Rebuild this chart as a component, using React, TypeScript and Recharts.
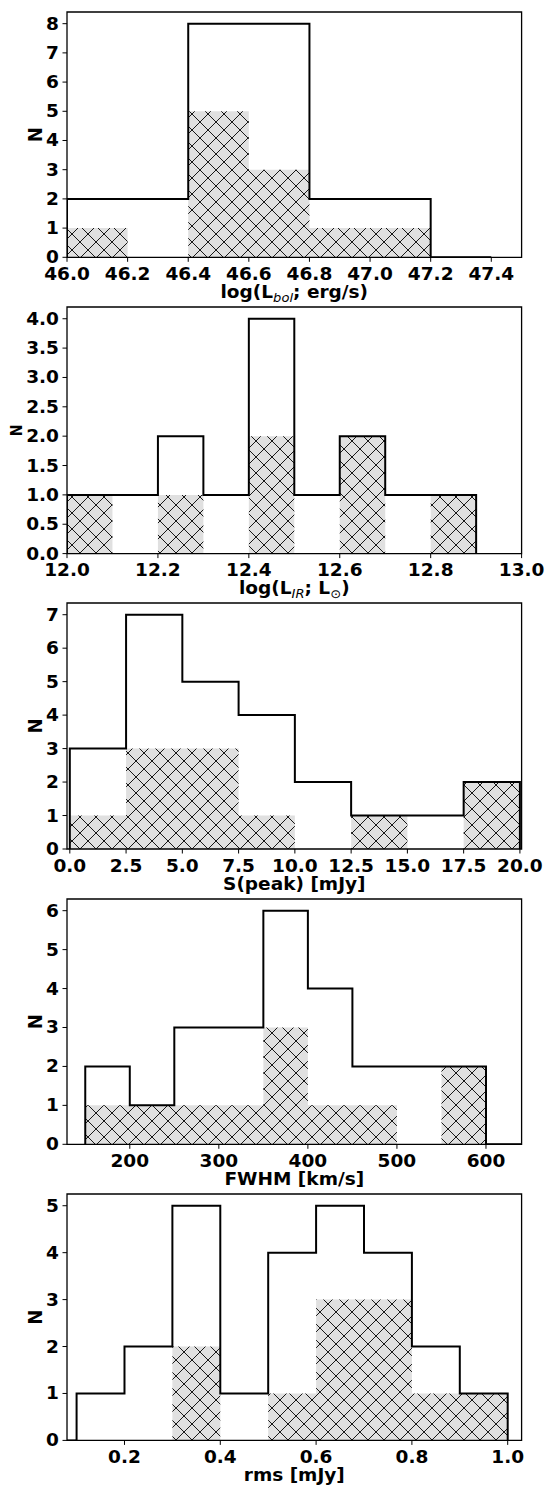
import React from "react";
import { ComposedChart, Area, Line, XAxis, YAxis, ReferenceArea, Label } from "recharts";

// Histograms: outline = full sample, hatched = sub-sample. Counts per bin, edges are bin boundaries.
const lbolEdges = [46.0, 46.2, 46.4, 46.6, 46.8, 47.0, 47.2, 47.4];
const lbolAll = [2, 2, 8, 8, 2, 2, 0];
const lbolSub = [1, 0, 5, 3, 1, 1, 0];
const lbolXTicks = [46.0, 46.2, 46.4, 46.6, 46.8, 47.0, 47.2, 47.4];
const lbolYTicks = [0, 1, 2, 3, 4, 5, 6, 7, 8];

const lirEdges = [12.0, 12.1, 12.2, 12.3, 12.4, 12.5, 12.6, 12.7, 12.8, 12.9];
const lirAll = [1, 1, 2, 1, 4, 1, 2, 1, 1];
const lirSub = [1, 0, 1, 0, 2, 0, 2, 0, 1];
const lirXTicks = [12.0, 12.2, 12.4, 12.6, 12.8, 13.0];
const lirYTicks = [0, 0.5, 1, 1.5, 2, 2.5, 3, 3.5, 4];

const speakEdges = [0, 2.5, 5, 7.5, 10, 12.5, 15, 17.5, 20];
const speakAll = [3, 7, 5, 4, 2, 1, 1, 2];
const speakSub = [1, 3, 3, 1, 0, 1, 0, 2];
const speakXTicks = [0, 2.5, 5, 7.5, 10, 12.5, 15, 17.5, 20];
const speakYTicks = [0, 1, 2, 3, 4, 5, 6, 7];

const fwhmEdges = [150, 200, 250, 300, 350, 400, 450, 500, 550, 600, 650];
const fwhmAll = [2, 1, 3, 3, 6, 4, 2, 2, 2, 0];
const fwhmSub = [1, 1, 1, 1, 3, 1, 1, 0, 2, 0];
const fwhmXTicks = [200, 300, 400, 500, 600];
const fwhmYTicks = [0, 1, 2, 3, 4, 5, 6];

const rmsEdges = [0.0, 0.1, 0.2, 0.3, 0.4, 0.5, 0.6, 0.7, 0.8, 0.9, 1.0];
const rmsAll = [0, 1, 2, 5, 1, 4, 5, 4, 2, 1];
const rmsSub = [0, 0, 0, 2, 0, 1, 3, 3, 1, 1];
const rmsXTicks = [0.2, 0.4, 0.6, 0.8, 1.0];
const rmsYTicks = [0, 1, 2, 3, 4, 5];

const FONT = "'DejaVu Sans', sans-serif";
const SX = 1.09; // horizontal text stretch
const PLOT_LEFT = 67;
const PLOT_RIGHT = 521.6;
const WIDTH = 547;
const AXIS_H = 50;

type Pt = { x: number; n: number };

// outline: rise at first edge, fall at last edge
const stepPoints = (edges: number[], counts: number[]): Pt[] => [
  { x: edges[0], n: 0 },
  ...counts.map((c, i) => ({ x: edges[i], n: c })),
  { x: edges[edges.length - 1], n: 0 },
];

// filled bars: last value repeated at the closing edge
const areaPoints = (edges: number[], counts: number[]): Pt[] => [
  ...counts.map((c, i) => ({ x: edges[i], n: c })),
  { x: edges[edges.length - 1], n: counts[counts.length - 1] },
];

const f1 = (v: number) => v.toFixed(1);
const f0 = (v: number) => v.toFixed(0);

const sub = (s: string) => (
  <tspan dy={4} fontSize={12} fontStyle="italic" fontWeight="normal">
    {s}
  </tspan>
);

const panels = [
  {
    id: "lbol",
    top: 11.7,
    bottom: 257,
    edges: lbolEdges,
    all: lbolAll,
    sub: lbolSub,
    xDomain: [46.0, 47.5],
    xTicks: lbolXTicks,
    xFmt: f1,
    yMax: 8.4,
    yTicks: lbolYTicks,
    yFmt: f0,
    nSize: 18,
    nX: 41.8,
    label: (
      <>
        log(L{sub("bol")}
        <tspan dy={-4}>; erg/s)</tspan>
      </>
    ),
  },
  {
    id: "lir",
    top: 306.7,
    bottom: 553.3,
    edges: lirEdges,
    all: lirAll,
    sub: lirSub,
    xDomain: [12.0, 13.0],
    xTicks: lirXTicks,
    xFmt: f1,
    yMax: 4.2,
    yTicks: lirYTicks,
    yFmt: f1,
    nSize: 14,
    nX: 21.6,
    label: (
      <>
        log(L{sub("IR")}
        <tspan dy={-4}>; L</tspan>
        <tspan dy={4} fontSize={12} fontWeight="normal">⊙</tspan>
        <tspan dy={-4}>)</tspan>
      </>
    ),
  },
  {
    id: "speak",
    top: 603.3,
    bottom: 849.3,
    edges: speakEdges,
    all: speakAll,
    sub: speakSub,
    xDomain: [-0.125, 20.075],
    xTicks: speakXTicks,
    xFmt: f1,
    yMax: 7.35,
    yTicks: speakYTicks,
    yFmt: f0,
    nSize: 18,
    nX: 41.8,
    label: <>S(peak) [mJy]</>,
  },
  {
    id: "fwhm",
    top: 899,
    bottom: 1144.3,
    edges: fwhmEdges,
    all: fwhmAll,
    sub: fwhmSub,
    xDomain: [129.5, 640],
    xTicks: fwhmXTicks,
    xFmt: f0,
    yMax: 6.3,
    yTicks: fwhmYTicks,
    yFmt: f0,
    nSize: 18,
    nX: 41.8,
    label: <>FWHM [km/s]</>,
  },
  {
    id: "rms",
    top: 1194.3,
    bottom: 1440.7,
    edges: rmsEdges,
    all: rmsAll,
    sub: rmsSub,
    xDomain: [0.08, 1.029],
    xTicks: rmsXTicks,
    xFmt: f1,
    yMax: 5.25,
    yTicks: rmsYTicks,
    yFmt: f0,
    nSize: 18,
    nX: 41.8,
    label: <>rms [mJy]</>,
  },
];

const textProps = { fontFamily: FONT, fontWeight: "bold" as const, fill: "#000" };

function Panel({ p }: { p: (typeof panels)[number] }) {
  const plotH = p.bottom - p.top;
  const height = plotH + 10 + AXIS_H;
  const hatchId = `hatch-${p.id}`;
  return (
    <div style={{ position: "absolute", left: 0, top: p.top - 10, width: WIDTH, height }}>
      <ComposedChart
        width={WIDTH}
        height={height}
        margin={{ top: 10, right: WIDTH - PLOT_RIGHT, bottom: 0, left: 0 }}
      >
        <defs>
          <pattern id={hatchId} patternUnits="userSpaceOnUse" width={16} height={16}>
            <rect width={16} height={16} fill="#e0e0e0" />
            <path d="M-2,-2 L18,18 M18,-2 L-2,18" stroke="#000" strokeWidth={0.9} />
          </pattern>
        </defs>
        <XAxis
          type="number"
          dataKey="x"
          domain={p.xDomain}
          ticks={p.xTicks}
          allowDataOverflow
          axisLine={false}
          tickSize={4.5}
          tickMargin={0}
          tickLine={{ stroke: "#000", strokeWidth: 1 }}
          height={AXIS_H}
          interval={0}
          tick={(t: any) => (
            <g transform={`translate(${t.x},${t.y + 18}) scale(${SX},1)`}>
              <text textAnchor="middle" fontSize={17} {...textProps}>
                {p.xFmt(t.payload.value)}
              </text>
            </g>
          )}
        >
          <Label
            content={(lp: any) => {
              const vb = lp.viewBox;
              return (
                <g transform={`translate(${vb.x + vb.width / 2},${vb.y + 40.5}) scale(${SX},1)`}>
                  <text textAnchor="middle" fontSize={17} {...textProps}>
                    {p.label}
                  </text>
                </g>
              );
            }}
          />
        </XAxis>
        <YAxis
          type="number"
          domain={[0, p.yMax]}
          ticks={p.yTicks}
          allowDataOverflow
          axisLine={false}
          width={PLOT_LEFT}
          tickSize={4.5}
          tickMargin={0}
          tickLine={{ stroke: "#000", strokeWidth: 1 }}
          interval={0}
          tick={(t: any) => (
            <g transform={`translate(${t.x - 3.5},${t.y + 6}) scale(${SX},1)`}>
              <text textAnchor="end" fontSize={17} {...textProps}>
                {p.yFmt(t.payload.value)}
              </text>
            </g>
          )}
        >
          <Label
            content={(lp: any) => {
              const vb = lp.viewBox;
              return (
                <g transform={`translate(${vb.x + p.nX},${vb.y + vb.height / 2}) scale(${SX},1) rotate(-90)`}>
                  <text textAnchor="middle" fontSize={p.nSize} {...textProps}>
                    N
                  </text>
                </g>
              );
            }}
          />
        </YAxis>
        <Area
          data={areaPoints(p.edges, p.sub)}
          dataKey="n"
          type="stepAfter"
          fill={`url(#${hatchId})`}
          fillOpacity={1}
          stroke="none"
          isAnimationActive={false}
        />
        <Line
          data={stepPoints(p.edges, p.all)}
          dataKey="n"
          type="stepAfter"
          stroke="#000"
          strokeWidth={2}
          dot={false}
          activeDot={false}
          isAnimationActive={false}
        />
        <ReferenceArea
          x1={p.xDomain[0]}
          x2={p.xDomain[1]}
          y1={0}
          y2={p.yMax}
          fill="none"
          fillOpacity={0}
          stroke="#000"
          strokeWidth={1.3}
          ifOverflow="visible"
        />
      </ComposedChart>
    </div>
  );
}

export default function App() {
  return (
    <div
      style={{
        position: "absolute",
        left: 0,
        top: 0,
        width: WIDTH,
        height: 1485,
        overflow: "hidden",
        background: "#fff",
      }}
    >
      {panels.map((p) => (
        <Panel key={p.id} p={p} />
      ))}
    </div>
  );
}
